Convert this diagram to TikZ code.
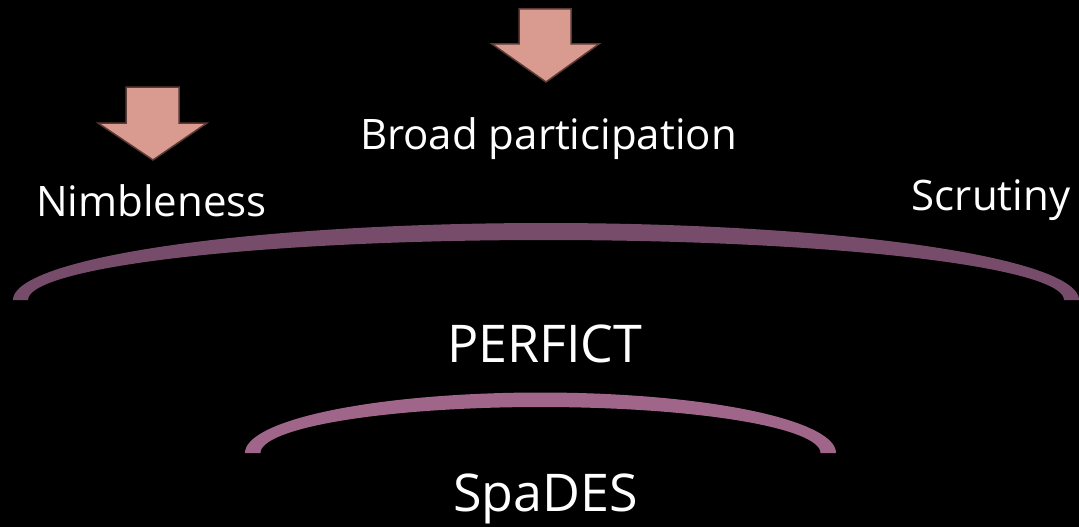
\documentclass[tikz,border=0pt]{standalone}
\usepackage{fontspec}
\setmainfont{Open Sans}
\definecolor{arcbig}{HTML}{774C6A}
\definecolor{arcsmall}{HTML}{A0668A}
\definecolor{arrowfill}{HTML}{D99A8F}
\definecolor{arrowline}{HTML}{5C3A36}
\begin{document}
\begin{tikzpicture}[x=1pt,y=-1pt,
  lbl/.style={text=white, inner sep=0pt, anchor=base, font=\fontsize{42}{50}\selectfont},
  biglbl/.style={text=white, inner sep=0pt, anchor=base, font=\fontsize{52}{60}\selectfont},
  downarrow/.style={fill=arrowfill, draw=arrowline, line width=1.5pt, line join=miter}]
\fill[black] (0,0) rectangle (1079,527);
\useasboundingbox (0,0) rectangle (1079,527);
% big arc
\fill[arcbig] plot[domain=180:0,samples=120] ({546+533*cos(\x)},{300-77*sin(\x)})
  -- plot[domain=0:180,samples=120] ({546+518*cos(\x)},{300-60*sin(\x)}) -- cycle;
% small arc
\fill[arcsmall] plot[domain=180:0,samples=120] ({540.5+295.5*cos(\x)},{453-60.5*sin(\x)})
  -- plot[domain=0:180,samples=120] ({540.5+280*cos(\x)},{453-46*sin(\x)}) -- cycle;
% arrows
\draw[downarrow] (126,87) -- (179,87) -- (179,123) -- (207,123) -- (153,160) -- (98,123) -- (126,123) -- cycle;
\draw[downarrow] (519,9) -- (571,9) -- (571,44) -- (599,44) -- (546,82) -- (492,44) -- (519,44) -- cycle;
% labels
\node[lbl] (nimble) at (151.5,216.7) {Nimbleness};
\node[lbl] (broad) at (548.5,149.3) {Broad participation};
\node[lbl] (scrut) at (991,210.7) {Scrutiny};
\node[biglbl] (perfict) at (544.8,362.7) {PERFICT};
\node[biglbl] (spades) at (545.5,511) {SpaDES};
\end{tikzpicture}
\end{document}
